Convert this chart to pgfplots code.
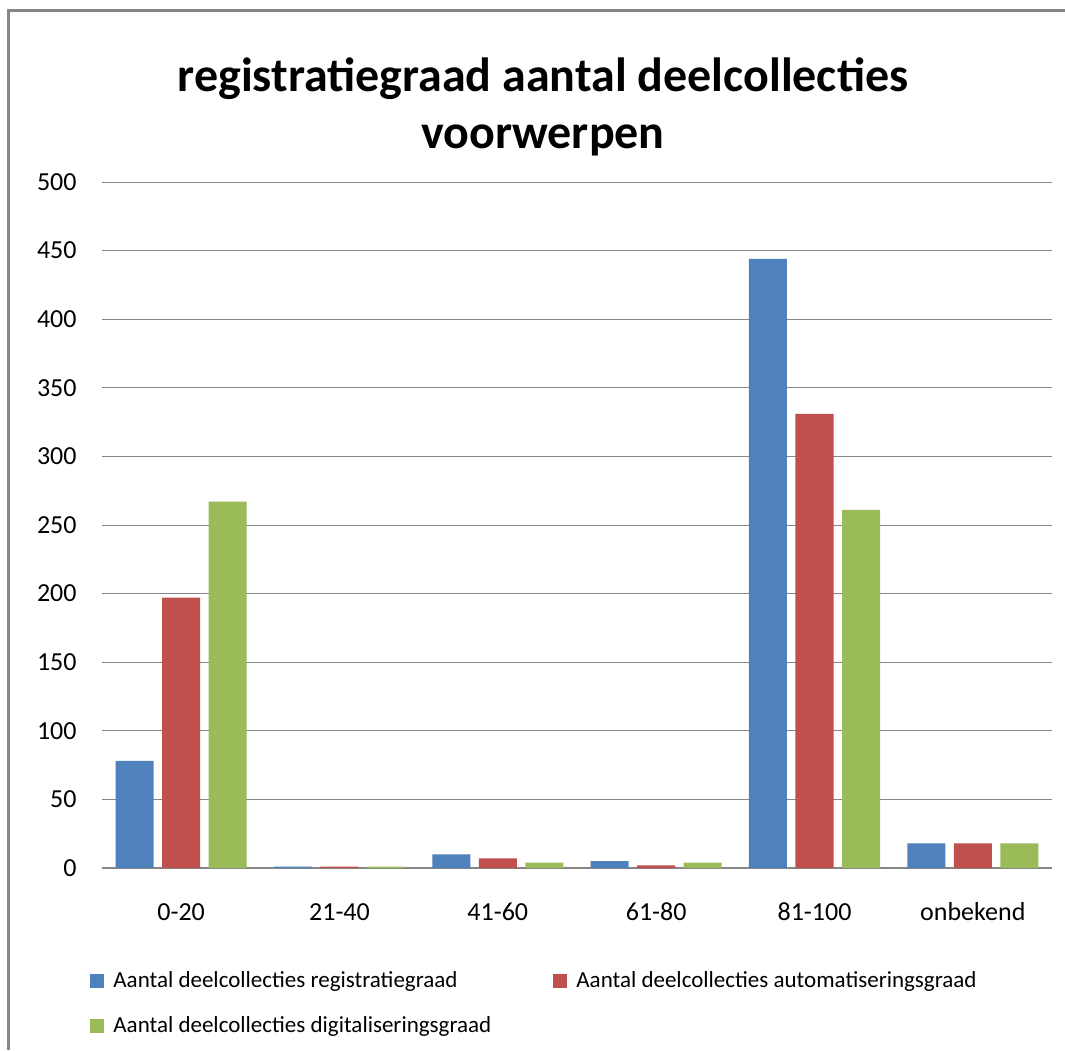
\documentclass[border=0pt]{standalone}
\usepackage{fontspec}
\setmainfont{Carlito}
\usepackage{pgfplots}
\pgfplotsset{compat=1.18}
\definecolor{barblue}{HTML}{4F81BD}
\definecolor{barred}{HTML}{C0504D}
\definecolor{bargreen}{HTML}{9BBB59}
\definecolor{gridgray}{HTML}{868686}

\begin{document}
\begin{tikzpicture}
\useasboundingbox (0,0) rectangle (532.5pt,525pt);
\fill[white] (0,0) rectangle (532.5pt,525pt);
% chart frame (only top and left are visible)
\draw[gridgray, line width=1.5pt] (4.25pt,0) -- (4.25pt,519.75pt) -- (533pt,519.75pt);
\begin{axis}[
  at={(51pt,91pt)}, anchor=south west,
  scale only axis, width=475pt, height=343pt,
  ybar=4.25pt, bar width=19pt,
  ymin=0, ymax=500, ytick={0,50,...,500},
  xmin=-0.5, xmax=5.5, xtick={0,...,5},
  xticklabels={0-20,21-40,41-60,61-80,81-100,onbekend},
  axis lines*=left,
  x axis line style={gridgray, line width=1pt, -},
  y axis line style={draw=none},
  major tick length=0pt,
  ymajorgrids, grid style={gridgray, line width=0.5pt},
  /pgf/number format/assume math mode=true,
  ticklabel style={font=\fontsize{13}{15}\selectfont},
  yticklabel style={anchor=east, inner sep=0pt, xshift=-12.5pt},
  xticklabel style={anchor=base, inner sep=0pt, yshift=-26pt},
  title={registratiegraad aantal deelcollecties\\voorwerpen},
  title style={at={(axis description cs:0.4642,1)}, anchor=south, inner sep=0pt,
    yshift=7pt, align=center, font=\bfseries\fontsize{24}{28.5}\selectfont},
  legend columns=2,
  legend cell align=left,
  legend style={at={(axis description cs:-0.0126,-0.1505)}, anchor=north west,
    draw=none, fill=none, inner sep=0pt, row sep=13pt, column sep=0pt,
    nodes={inner sep=0pt}, font=\fontsize{11.5}{13}\selectfont},
  legend image code/.code={\fill[#1] (0pt,-3.5pt) rectangle (7pt,3.5pt); \path (11.5pt,0pt);},
]
\addplot[fill=barblue, draw=none] coordinates {(0,78) (1,1) (2,10) (3,5) (4,444) (5,18)};
\addlegendentry{\makebox[220pt][l]{Aantal deelcollecties registratiegraad}}
\addplot[fill=barred, draw=none] coordinates {(0,197) (1,1) (2,7) (3,2) (4,331) (5,18)};
\addlegendentry{Aantal deelcollecties automatiseringsgraad}
\addplot[fill=bargreen, draw=none] coordinates {(0,267) (1,1) (2,4) (3,4) (4,261) (5,18)};
\addlegendentry{\makebox[220pt][l]{Aantal deelcollecties digitaliseringsgraad}}
\end{axis}
\end{tikzpicture}
\end{document}
